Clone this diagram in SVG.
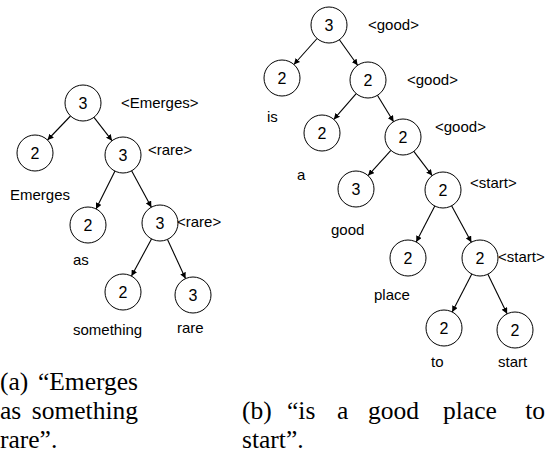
<svg xmlns="http://www.w3.org/2000/svg" width="547" height="458" viewBox="0 0 547 458">
<style>
.n circle{fill:#fff;stroke:#000;stroke-width:1}
.n text{font-family:"Liberation Sans",Arial,sans-serif;font-size:16px;text-anchor:middle;fill:#000}
.lb{font-family:"Liberation Sans",Arial,sans-serif;font-size:15px;fill:#000}
.e line{stroke:#000;stroke-width:1.1;marker-end:url(#ah)}
.cap{font-family:"Liberation Serif","Times New Roman",serif;font-size:25.5px;fill:#000}
</style>
<defs>
<marker id="ah" markerUnits="userSpaceOnUse" markerWidth="7" markerHeight="6" refX="6" refY="3" orient="auto">
<path d="M0,0 L6,3 L0,6 z" fill="#000"/>
</marker>
</defs>
<rect width="547" height="458" fill="#fff"/>
<g id="connectors" class="e">
<line x1="70.5" y1="116" x2="47.5" y2="140"/>
<line x1="94" y1="117.3" x2="112" y2="140.7"/>
<line x1="115" y1="171.1" x2="96" y2="208.9"/>
<line x1="131.6" y1="170.8" x2="151.4" y2="207.2"/>
<line x1="151.5" y1="238.9" x2="131.5" y2="276.1"/>
<line x1="167.5" y1="239.4" x2="185.5" y2="278.6"/>
<line x1="317.1" y1="38.5" x2="293.9" y2="64.5"/>
<line x1="339.4" y1="39.7" x2="357.6" y2="65.3"/>
<line x1="356.2" y1="93.6" x2="333.8" y2="119.4"/>
<line x1="377.4" y1="95.3" x2="393.6" y2="121.7"/>
<line x1="390.9" y1="150.4" x2="368.1" y2="175.6"/>
<line x1="413.8" y1="151.4" x2="432.2" y2="175.6"/>
<line x1="434.8" y1="206" x2="416.2" y2="242"/>
<line x1="451.6" y1="205.8" x2="471.4" y2="242.2"/>
<line x1="471.8" y1="274" x2="452.2" y2="312"/>
<line x1="487.9" y1="274.2" x2="507.1" y2="313.8"/>
</g>
<g id="a_root" class="n"><circle cx="83" cy="103" r="18"/><text x="83" y="109">3</text></g>
<g id="a_emerges" class="n"><circle cx="35" cy="153" r="18"/><text x="35" y="159">2</text></g>
<g id="a_n1" class="n"><circle cx="123" cy="155" r="18"/><text x="123" y="161">3</text></g>
<g id="a_as" class="n"><circle cx="88" cy="225" r="18"/><text x="88" y="231">2</text></g>
<g id="a_n2" class="n"><circle cx="160" cy="223" r="18"/><text x="160" y="229">3</text></g>
<g id="a_something" class="n"><circle cx="123" cy="292" r="18"/><text x="123" y="298">2</text></g>
<g id="a_rare" class="n"><circle cx="193" cy="295" r="18"/><text x="193" y="301">3</text></g>
<g id="b_root" class="n"><circle cx="329" cy="25" r="18"/><text x="329" y="31">3</text></g>
<g id="b_is" class="n"><circle cx="282" cy="78" r="18"/><text x="282" y="84">2</text></g>
<g id="b_n1" class="n"><circle cx="368" cy="80" r="18"/><text x="368" y="86">2</text></g>
<g id="b_a" class="n"><circle cx="322" cy="133" r="18"/><text x="322" y="139">2</text></g>
<g id="b_n2" class="n"><circle cx="403" cy="137" r="18"/><text x="403" y="143">2</text></g>
<g id="b_good" class="n"><circle cx="356" cy="189" r="18"/><text x="356" y="195">3</text></g>
<g id="b_n3" class="n"><circle cx="443" cy="190" r="18"/><text x="443" y="196">2</text></g>
<g id="b_place" class="n"><circle cx="408" cy="258" r="18"/><text x="408" y="264">2</text></g>
<g id="b_n4" class="n"><circle cx="480" cy="258" r="18"/><text x="480" y="264">2</text></g>
<g id="b_to" class="n"><circle cx="444" cy="328" r="18"/><text x="444" y="334">2</text></g>
<g id="b_start" class="n"><circle cx="515" cy="330" r="18"/><text x="515" y="336">2</text></g>
<g id="labels" class="lb">
<text x="121" y="108">&lt;Emerges&gt;</text>
<text x="148" y="155">&lt;rare&gt;</text>
<text x="10" y="200">Emerges</text>
<text x="177" y="227">&lt;rare&gt;</text>
<text x="73" y="265">as</text>
<text x="73" y="335">something</text>
<text x="177" y="333">rare</text>
<text x="368" y="30">&lt;good&gt;</text>
<text x="407" y="85">&lt;good&gt;</text>
<text x="267" y="122">is</text>
<text x="435" y="132">&lt;good&gt;</text>
<text x="297" y="180">a</text>
<text x="470" y="188">&lt;start&gt;</text>
<text x="331" y="235">good</text>
<text x="498" y="262">&lt;start&gt;</text>
<text x="374" y="300">place</text>
<text x="431" y="367">to</text>
<text x="498" y="367">start</text>
</g>
<g id="captions" class="cap">
<text x="0" y="390">(a)</text>
<text x="138" y="390" text-anchor="end">“Emerges</text>
<text x="0" y="419">as</text>
<text x="138" y="419" text-anchor="end">something</text>
<text x="0" y="448">rare”.</text>
<text x="242" y="419">(b)</text>
<text x="287" y="419">“is</text>
<text x="337" y="419">a</text>
<text x="368" y="419">good</text>
<text x="443" y="419">place</text>
<text x="545" y="419" text-anchor="end">to</text>
<text x="242" y="448">start”.</text>
</g>
</svg>
